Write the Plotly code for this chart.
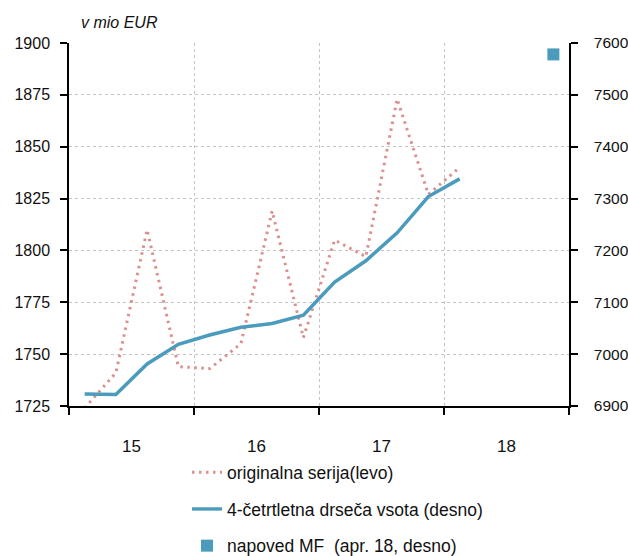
import plotly.graph_objects as go

# quarterly positions (index of quarter starting 2015Q1 = 0)
quarters = ["15Q1","15Q2","15Q3","15Q4","16Q1","16Q2","16Q3","16Q4",
            "17Q1","17Q2","17Q3","17Q4","18Q1"]
original_left = [1724, 1741, 1810, 1744, 1743, 1755, 1819, 1758,
                 1805, 1797, 1873, 1827, 1840]
rolling_right = [6923, 6922, 6981, 7019, 7037, 7052, 7059, 7075,
                 7139, 7180, 7234, 7304, 7338]
forecast_quarter = ["18Q4"]
forecast_right = [7578]

year_labels = ["15", "16", "17", "18"]
year_label_pos = [2, 6, 10, 14]
left_ticks = [1725, 1750, 1775, 1800, 1825, 1850, 1875, 1900]
right_ticks = [6900, 7000, 7100, 7200, 7300, 7400, 7500, 7600]

def qpos(q):
    y = int(q[:2]) - 15
    n = int(q[-1]) - 1
    return y * 4 + n + 0.5

x_main = [qpos(q) for q in quarters]
x_fc = [qpos(q) for q in forecast_quarter]

FONT = "Liberation Sans, Arial, sans-serif"
BLUE = "#4b9bbd"
PINK = "#d9908f"
GRID = "#c4c4c4"
TXT = "#111111"

fig = go.Figure()
fig.add_trace(go.Scatter(
    x=x_main, y=original_left, mode="lines", name="originalna serija(levo)",
    line=dict(color=PINK, width=3, dash="2.5px,4.5px"), yaxis="y", legendgroup="a"))
fig.add_trace(go.Scatter(
    x=x_main, y=rolling_right, mode="lines", name="4-četrtletna drseča vsota (desno)",
    line=dict(color=BLUE, width=3.5), yaxis="y2", legendgroup="b"))
fig.add_trace(go.Scatter(
    x=x_fc, y=forecast_right, mode="markers", name="napoved MF  (apr. 18, desno)",
    marker=dict(color=BLUE, size=12, symbol="square"), yaxis="y2", legendgroup="c"))

fig.update_layout(
    width=628, height=556,
    margin=dict(l=69, r=59, t=43, b=150, autoexpand=False),
    paper_bgcolor="white", plot_bgcolor="white",
    font=dict(family=FONT, size=16, color=TXT),
    showlegend=True,
    legend=dict(x=0.236, y=-0.133, xanchor="left", yanchor="top",
                orientation="v", traceorder="grouped", tracegroupgap=11,
                font=dict(family=FONT, size=17.5, color=TXT),
                bgcolor="rgba(0,0,0,0)"),
    xaxis=dict(range=[0, 16], tickvals=year_label_pos, ticktext=year_labels,
               ticks="", showgrid=False, zeroline=False, automargin=False,
               showline=True, linecolor="black", linewidth=1.5,
               ticklabelstandoff=24, tickfont=dict(size=17),
               minor=dict(tick0=0, dtick=4, ticks="outside", ticklen=7,
                          tickcolor="black", tickwidth=1.5, showgrid=True,
                          gridcolor=GRID, griddash="dot", gridwidth=1)),
    yaxis=dict(range=[1725, 1900], tickvals=left_ticks, ticks="outside",
               ticklen=7, tickwidth=1.5, tickcolor="black", automargin=False,
               showline=True, linecolor="black", linewidth=1.5,
               showgrid=True, gridcolor=GRID, griddash="dot", gridwidth=1,
               zeroline=False, ticklabelstandoff=7),
    yaxis2=dict(range=[6900, 7600], tickvals=right_ticks, overlaying="y",
                side="right", ticks="outside", ticklen=7, tickwidth=1.5,
                tickcolor="black", showline=True, linecolor="black",
                linewidth=1.5, showgrid=False, zeroline=False, automargin=False,
                ticklabelstandoff=13, tickfont=dict(size=15.5)),
    annotations=[dict(text="v mio EUR", xref="paper", yref="paper",
                      x=0.02, y=1.0, xanchor="left", yanchor="bottom", yshift=10,
                      showarrow=False,
                      font=dict(family=FONT, size=16, style="italic", color=TXT))],
)

fig.write_html("out.html", config={"displayModeBar": False},
               post_script="document.body.style.margin='0';document.body.style.overflow='hidden';")
